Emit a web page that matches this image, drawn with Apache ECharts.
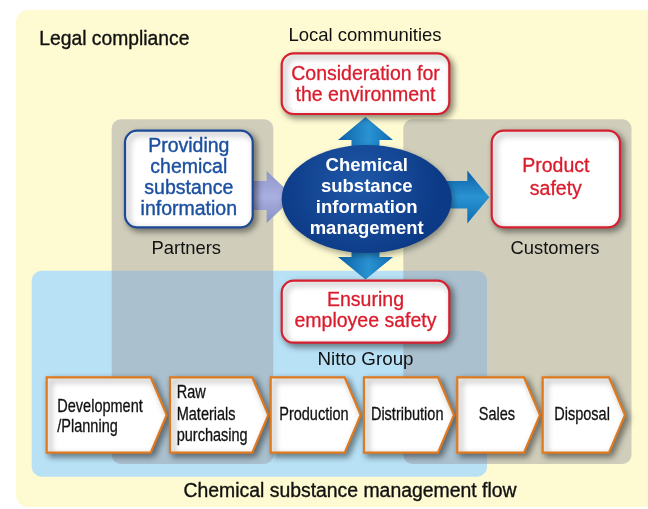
<!DOCTYPE html>
<html><head><meta charset="utf-8">
<script src="https://cdn.jsdelivr.net/npm/echarts@6/dist/echarts.min.js"></script>
<style>html,body{margin:0;padding:0;background:#fff}#c{width:648px;height:509px}</style>
</head><body><div id="c"></div>
<script>
// ---- content ----
const outerLabel = 'Legal compliance';
const topLabel = 'Local communities';
const flowTitle = 'Chemical substance management flow';
const stakeholderLabels = ['Partners', 'Customers', 'Nitto Group'];
const centerLines = ['Chemical', 'substance', 'information', 'management'];
const partnerLines = ['Providing', 'chemical', 'substance', 'information'];
const goalLines = [['Consideration for', 'the environment'], ['Product', 'safety'], ['Ensuring', 'employee safety']];
const processSteps = [['Development', '/Planning'], ['Raw', 'Materials', 'purchasing'], ['Production'], ['Distribution'], ['Sales'], ['Disposal']];

// ---- layout ----
const FF = '"Liberation Sans", Arial, Helvetica, sans-serif';
const stepLeft = [46.7, 170, 270.7, 364, 457.3, 542.7];
const stepTip = [166.7, 268.3, 360.7, 454, 540, 625];
const stepTop = 377.3, stepBottom = 452.7, stepDepth = 16;
const stepTextMode = ['left', 'left', 'center', 'center', 'center', 'center'];
const stepTextX = [57.3, 176.7];
const stepLH = [20, 21.3, 20, 20, 20, 20];

let zc = 0;
const els = [];
function add(e) { e.z = 0; e.zlevel = 0; e.z2 = zc++; els.push(e); return e; }
function txt(lines, x, y, size, fill, o) {
  o = o || {};
  const e = {
    type: 'text', x: x, y: y,
    style: {
      text: Array.isArray(lines) ? lines.join('\n') : lines,
      fill: fill,
      font: (o.weight || 'normal') + ' ' + size + 'px ' + FF,
      align: o.align || 'center',
      verticalAlign: 'middle',
      lineHeight: o.lh || size * 1.1
    }
  };
  if (o.stroke) { e.style.stroke = fill; e.style.lineWidth = o.stroke; }
  if (o.scaleX) { e.scaleX = o.scaleX; }
  return add(e);
}
const whiteShadow = { shadowBlur: 6, shadowColor: 'rgba(0,0,0,0.45)', shadowOffsetX: 3, shadowOffsetY: 3 };
function box(x1, y1, x2, y2, stroke, r) {
  return add({ type: 'rect', shape: { x: x1, y: y1, width: x2 - x1, height: y2 - y1, r: r },
    style: Object.assign({ fill: '#ffffff', stroke: stroke, lineWidth: 2.2 }, whiteShadow) });
}

// background
add({ type: 'rect', shape: { x: 16, y: 10, width: 660, height: 497, r: 12 }, style: { fill: '#fefad2' } });
// Nitto group (blue)
add({ type: 'rect', shape: { x: 31.7, y: 270.7, width: 487 - 31.7, height: 476.7 - 270.7, r: 10 }, style: { fill: '#b8e1f6' } });
// partners / customers (gray, translucent)
add({ type: 'rect', shape: { x: 111.7, y: 119.3, width: 273.3 - 111.7, height: 464 - 119.3, r: 9 }, style: { fill: 'rgba(152,152,159,0.45)' } });
add({ type: 'rect', shape: { x: 403.3, y: 119.3, width: 631.5 - 403.3, height: 464 - 119.3, r: 9 }, style: { fill: 'rgba(152,152,159,0.45)' } });

// labels
txt(outerLabel, 39.3, 40, 19.3, '#111', { align: 'left', stroke: 0.35 });
txt(topLabel, 365, 35.5, 18.5, '#111');
txt(stakeholderLabels[0], 186.3, 248.5, 18.4, '#111');
txt(stakeholderLabels[1], 555, 248.5, 18.4, '#111');
txt(stakeholderLabels[2], 365.5, 360, 18.8, '#111');
txt(flowTitle, 350, 491.5, 19.4, '#111', { stroke: 0.35 });

// arrows
const blueGrad = { type: 'linear', x: 0, y: 0, x2: 1, y2: 0, colorStops: [{ offset: 0, color: '#0b5fa6' }, { offset: 0.55, color: '#2a93d2' }, { offset: 1, color: '#0e6db4' }] };
const blueGradV = { type: 'linear', x: 0, y: 0, x2: 0, y2: 1, colorStops: [{ offset: 0, color: '#0b5fa6' }, { offset: 0.5, color: '#2a93d2' }, { offset: 1, color: '#0e6db4' }] };
add({ type: 'polygon', shape: { points: [[351.5, 165], [351.5, 140], [338, 140], [365.5, 117], [393, 140], [379.5, 140], [379.5, 165]] }, style: { fill: blueGrad } });
add({ type: 'polygon', shape: { points: [[351.5, 235], [351.5, 257], [338, 257], [365.5, 279.5], [393, 257], [379.5, 257], [379.5, 235]] }, style: { fill: blueGrad } });
add({ type: 'polygon', shape: { points: [[425, 181], [467.3, 181], [467.3, 170.5], [489.3, 197.3], [467.3, 223.5], [467.3, 208.5], [425, 208.5]] }, style: { fill: blueGradV } });
add({ type: 'polygon', shape: { points: [[240, 181], [266.7, 181], [266.7, 171], [294, 197], [266.7, 223], [266.7, 210], [240, 210]] },
  style: { fill: { type: 'linear', x: 0, y: 0, x2: 0, y2: 1, colorStops: [{ offset: 0, color: '#8e96ca' }, { offset: 0.5, color: '#a9afdf' }, { offset: 1, color: '#8890c4' }] } } });

// central ellipse
add({ type: 'ellipse', shape: { cx: 366.7, cy: 199, rx: 85, ry: 54 },
  style: { fill: { type: 'radial', x: 0.45, y: 0.35, r: 0.75, colorStops: [{ offset: 0, color: '#1f58a8' }, { offset: 1, color: '#0c3a86' }] },
    shadowBlur: 6, shadowColor: 'rgba(0,0,0,0.35)', shadowOffsetX: 2, shadowOffsetY: 3 } });
txt(centerLines, 366.7, 197.5, 18.5, '#ffffff', { weight: 'bold', lh: 20.8 });

// white boxes
const RED = '#d6202f', REDT = '#da1b2c', BLUE = '#1d4a98', BLUET = '#1b4f9f';
box(125, 130.7, 252.7, 227.3, BLUE, 12);
txt(partnerLines, 188.8, 178, 19.5, BLUET, { lh: 21.1, stroke: 0.4 });
box(281.7, 53.3, 449.3, 114, RED, 12);
txt(goalLines[0], 365.5, 85.5, 19.5, REDT, { lh: 20.8, stroke: 0.3 });
box(491.7, 130.7, 620, 227.3, RED, 12);
txt(goalLines[1], 555.8, 178, 19.5, REDT, { lh: 22.3, stroke: 0.3 });
box(281.7, 280.7, 449.3, 342.7, RED, 12);
txt(goalLines[2], 365.5, 310.7, 19.5, REDT, { lh: 21, stroke: 0.3 });

// process chevrons
processSteps.forEach(function (lines, i) {
  const l = stepLeft[i], t = stepTip[i], r = t - stepDepth, m = (stepTop + stepBottom) / 2;
  add({ type: 'polygon', shape: { points: [[l, stepTop], [r, stepTop], [t, m], [r, stepBottom], [l, stepBottom]] },
    style: Object.assign({ fill: '#ffffff', stroke: '#e07a1e', lineWidth: 2.2, lineJoin: 'miter' }, whiteShadow) });
  const left = stepTextMode[i] === 'left';
  const x = left ? stepTextX[i] : (l + t) / 2 - 1.8;
  txt(lines, x, left ? (i === 0 ? 416.7 : 414.7) : 415, 17.7, '#111', { align: left ? 'left' : 'center', lh: stepLH[i], scaleX: 0.82, stroke: 0.3 });
});

const chart = echarts.init(document.getElementById('c'), null, { renderer: 'canvas' });
chart.setOption({ animation: false, graphic: { elements: els } });
</script>
</body></html>
